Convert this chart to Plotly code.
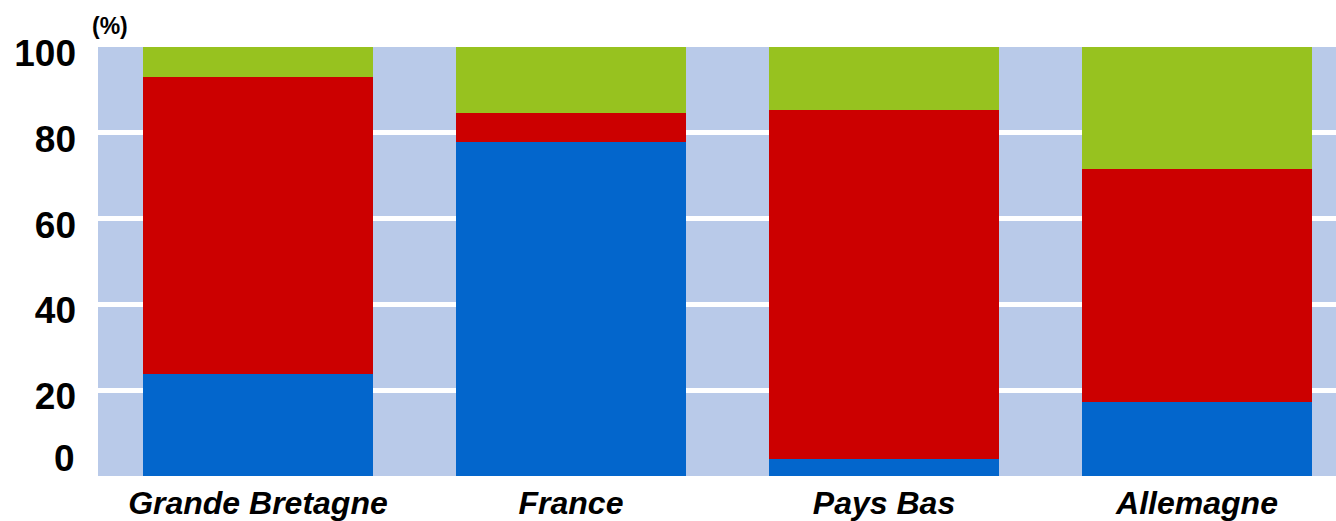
import plotly.graph_objects as go

categories = ["Grande Bretagne", "France", "Pays Bas", "Allemagne"]
blue_vals = [23.8, 77.8, 3.9, 17.3]
red_vals = [69.2, 6.8, 81.3, 54.2]
green_vals = [7.0, 15.4, 14.8, 28.5]

y_ticks = [20, 40, 60, 80, 100]
y_ticktext = ["20", "40", "60", "80", "100"]

colors = {"blue": "#0366CC", "red": "#CC0000", "green": "#97C21F"}

fig = go.Figure()
for name, vals in [("blue", blue_vals), ("red", red_vals), ("green", green_vals)]:
    fig.add_trace(go.Bar(
        x=categories, y=vals, name=name,
        marker=dict(color=colors[name], line=dict(width=0)),
        hoverinfo="skip",
    ))

fig.update_layout(
    width=1336, height=521,
    margin=dict(l=98, r=0, t=47, b=43),
    barmode="stack",
    bargap=0.265,
    showlegend=False,
    paper_bgcolor="white",
    plot_bgcolor="#B9CAE9",
    font=dict(family="Liberation Sans, Arial, sans-serif", color="black"),
    xaxis=dict(
        range=[-0.511, 3.444],
        showgrid=False, zeroline=False, showline=False, ticks="",
        tickfont=dict(size=32, weight="bold", style="italic"),
        ticklabelstandoff=5,
    ),
    yaxis=dict(
        range=[0, 100],
        tickvals=y_ticks, ticktext=y_ticktext,
        showgrid=True, gridcolor="white", gridwidth=5,
        zeroline=False, showline=False, ticks="",
        tickfont=dict(size=37, weight="bold"),
        ticklabelstandoff=21,
        ticklabelshift=6,
    ),
    annotations=[
        dict(text="0", x=0, xref="paper", xanchor="right", xshift=-21,
             y=0, yref="y", yshift=18, yanchor="middle", showarrow=False,
             font=dict(size=37, weight="bold", family="Liberation Sans, Arial, sans-serif")),
        dict(text="(%)", x=0, xref="paper", xanchor="center", xshift=12,
             y=1, yref="paper", yanchor="bottom", yshift=6, showarrow=False,
             font=dict(size=23, weight="bold", family="Liberation Sans, Arial, sans-serif")),
    ],
)

fig.write_html("out.html")
